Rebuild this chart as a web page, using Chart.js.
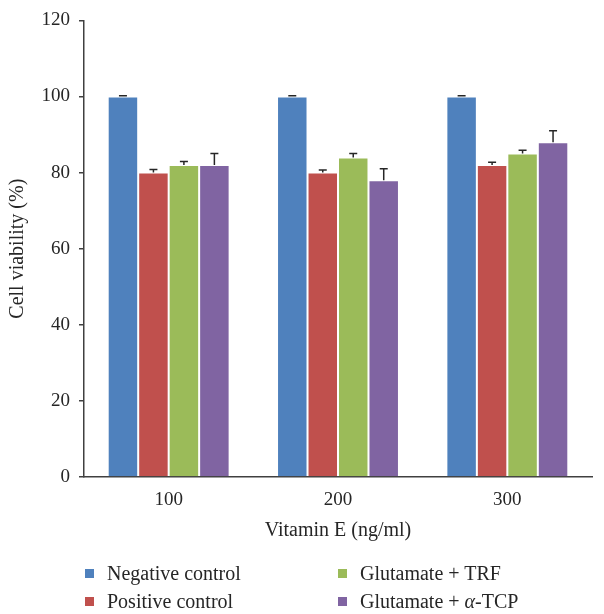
<!DOCTYPE html>
<html>
<head>
<meta charset="utf-8">
<script src="https://cdn.jsdelivr.net/npm/chart.js@4/dist/chart.umd.min.js"></script>
<style>
  html, body { margin: 0; padding: 0; background: #fff; }
  #wrap { position: relative; width: 604px; height: 614px; }
  #legend { position: absolute; left: 0; top: 0; width: 604px; height: 614px; pointer-events: none;
            font-family: "Liberation Serif", "Times New Roman", serif; font-size: 20px; color: #262626; }
  .item { position: absolute; white-space: nowrap; line-height: 22px; }
  .sw { display: inline-block; width: 9px; height: 9px; margin-right: 13px; vertical-align: 2px; }
</style>
</head>
<body>
<div id="wrap">
  <canvas id="chart" width="604" height="614"></canvas>
  <div id="legend"></div>
</div>
<script>
const categories = ['100', '200', '300'];
const seriesNames = ['Negative control', 'Positive control', 'Glutamate + TRF', 'Glutamate + <i>α</i>-TCP'];
const seriesColors = ['#4F81BD', '#C0504D', '#9BBB59', '#8064A2'];
const negativeControl = [100, 100, 100];
const positiveControl = [80, 80, 82];
const glutamateTRF = [82, 84, 85];
const glutamateTCP = [82, 78, 88];
const errNegative = [0.2, 0.2, 0.2];
const errPositive = [0.8, 0.7, 0.7];
const errTRF = [0.9, 1.0, 0.9];
const errTCP = [3, 3, 3];
const yTicks = [0, 20, 40, 60, 80, 100, 120];

const values = [negativeControl, positiveControl, glutamateTRF, glutamateTCP];
const errors = [errNegative, errPositive, errTRF, errTCP];
const FONT = '"Liberation Serif", "Times New Roman", serif';

// upper error bars drawn from the bar elements and the y scale
const errorBars = {
  id: 'errorBars',
  afterDatasetsDraw(chart) {
    const ctx = chart.ctx;
    const y = chart.scales.y;
    ctx.save();
    ctx.strokeStyle = '#262626';
    ctx.lineWidth = 1.5;
    chart.data.datasets.forEach((ds, di) => {
      const meta = chart.getDatasetMeta(di);
      meta.data.forEach((bar, i) => {
        const top = y.getPixelForValue(ds.data[i] + ds.err[i]);
        const base = y.getPixelForValue(ds.data[i]);
        ctx.beginPath();
        ctx.moveTo(bar.x, base);
        ctx.lineTo(bar.x, top);
        ctx.moveTo(bar.x - 4, top);
        ctx.lineTo(bar.x + 4, top);
        ctx.stroke();
      });
    });
    ctx.restore();
  }
};

new Chart(document.getElementById('chart'), {
  type: 'bar',
  data: {
    labels: categories,
    datasets: values.map((v, i) => ({
      label: seriesNames[i],
      data: v,
      err: errors[i],
      backgroundColor: seriesColors[i],
      borderColor: 'rgba(255,255,255,0.25)',
      borderWidth: 1,
      categoryPercentage: 0.72,
      barPercentage: 1
    }))
  },
  options: {
    responsive: false,
    animation: false,
    layout: { padding: { top: 6, right: 12, bottom: 67, left: 0 } },
    plugins: { legend: { display: false }, tooltip: { enabled: false } },
    scales: {
      x: {
        grid: { display: false },
        border: { display: true, color: '#404040', width: 1.5 },
        ticks: { color: '#262626', font: { family: FONT, size: 19 }, padding: 4 },
        title: { display: true, text: 'Vitamin E (ng/ml)', color: '#262626', font: { family: FONT, size: 20 }, padding: { top: 4 } },
        afterFit: s => { s.height = 70; }
      },
      y: {
        min: 0, max: 120,
        afterBuildTicks: s => { s.ticks = yTicks.map(v => ({ value: v })); },
        grid: { drawOnChartArea: false, drawTicks: true, tickLength: 5, color: '#404040', lineWidth: 1.5 },
        border: { display: true, color: '#404040', width: 1.5 },
        ticks: { color: '#262626', font: { family: FONT, size: 19 }, padding: 9 },
        title: { display: true, text: 'Cell viability (%)', color: '#262626', font: { family: FONT, size: 20 }, padding: { top: 6, bottom: 0 } },
        afterFit: s => { s.width = 84; }
      }
    }
  },
  plugins: [errorBars]
});

// two-column legend below the plot
const legendPos = [[85, 573], [85, 601], [338, 573], [338, 601]];
document.getElementById('legend').innerHTML = seriesNames.map((name, i) =>
  `<div class="item" style="left:${legendPos[i][0]}px;top:${legendPos[i][1] - 11}px"><span class="sw" style="background:${seriesColors[i]}"></span>${name}</div>`
).join('');
</script>
</body>
</html>
